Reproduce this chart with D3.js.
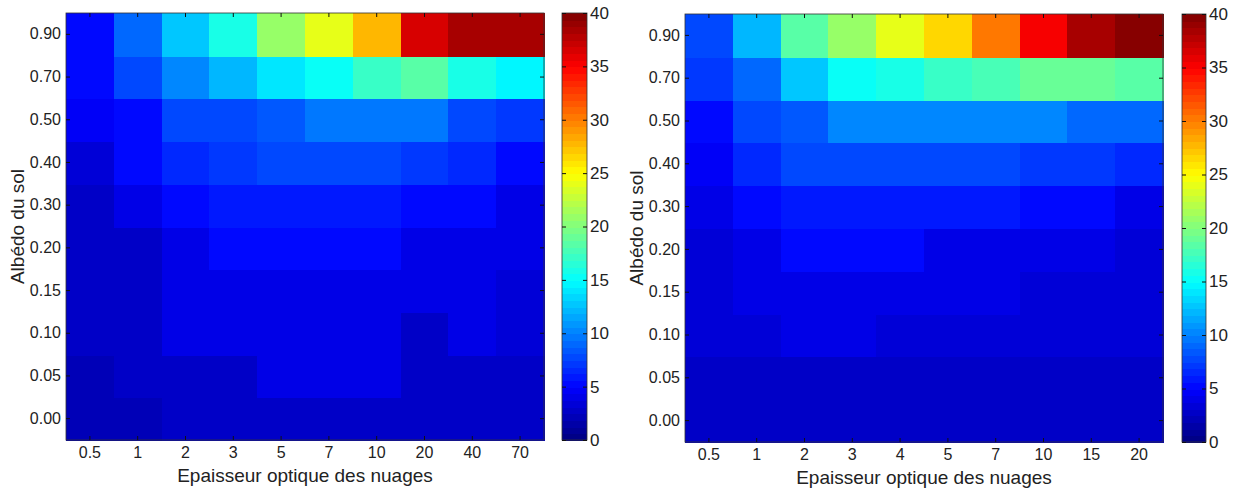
<!DOCTYPE html>
<html>
<head>
<meta charset="utf-8">
<script src="https://cdn.jsdelivr.net/npm/d3@7"></script>
<style>
  body { margin: 0; background: #fff; }
  text { font-family: "Liberation Sans", Arial, sans-serif; fill: #222; }
</style>
</head>
<body>
<div id="viz"></div>
<script>
// albedo rows, bottom to top
const albedo = ["0.00", "0.05", "0.10", "0.15", "0.20", "0.30", "0.40", "0.50", "0.70", "0.90"];

const opticalLeft = ["0.5", "1", "2", "3", "5", "7", "10", "20", "40", "70"];
const opticalRight = ["0.5", "1", "2", "3", "4", "5", "7", "10", "15", "20"];

// one row per albedo value (same order as albedo), one value per optical thickness
const valuesLeft = [
  [2.4, 2.4, 3.0, 3.0, 3.0, 3.0, 3.0, 3.0, 3.0, 3.0],
  [2.3, 3.0, 3.0, 3.0, 4.0, 4.0, 4.0, 3.0, 3.0, 3.0],
  [2.5, 3.0, 3.8, 3.8, 3.8, 3.8, 3.8, 3.0, 3.8, 3.2],
  [2.5, 3.0, 3.8, 3.8, 3.8, 3.8, 3.8, 3.8, 3.8, 3.2],
  [2.5, 3.0, 4.0, 5.0, 5.0, 5.0, 5.0, 3.8, 4.0, 3.8],
  [3.0, 4.0, 5.0, 6.0, 6.0, 6.0, 6.0, 5.0, 5.0, 4.3],
  [3.5, 5.0, 6.5, 7.0, 8.0, 8.0, 8.0, 7.0, 6.5, 5.0],
  [4.5, 5.0, 7.5, 8.0, 8.5, 9.5, 9.5, 9.5, 7.5, 7.0],
  [5.0, 8.0, 10.0, 12.0, 14.0, 15.0, 17.0, 18.5, 16.0, 14.5],
  [5.2, 9.0, 13.0, 16.0, 21.0, 24.0, 28.0, 36.5, 38.5, 38.5]
];

const valuesRight = [
  [2.8, 3.0, 3.0, 3.0, 3.0, 3.0, 3.0, 3.0, 3.0, 2.8],
  [2.5, 3.0, 3.0, 3.0, 3.0, 3.0, 3.0, 3.0, 3.0, 2.7],
  [3.3, 3.3, 4.3, 4.3, 3.2, 3.2, 3.2, 3.2, 3.2, 3.2],
  [3.5, 4.0, 4.0, 4.0, 4.0, 4.0, 4.0, 3.3, 3.3, 3.3],
  [3.5, 4.0, 5.0, 5.0, 5.0, 4.0, 4.0, 4.0, 4.0, 3.7],
  [4.0, 5.0, 6.0, 6.0, 6.0, 6.0, 6.0, 5.0, 5.0, 4.0],
  [4.7, 6.5, 8.0, 8.0, 8.0, 8.0, 8.0, 7.0, 7.0, 6.5],
  [5.0, 7.5, 8.5, 10.0, 10.0, 10.0, 10.0, 10.0, 9.0, 9.0],
  [7.0, 9.0, 13.0, 15.0, 16.0, 17.0, 18.0, 19.0, 19.0, 18.5],
  [8.0, 12.0, 18.5, 21.0, 24.0, 26.5, 30.0, 35.0, 38.5, 40.0]
];

const colorTicks = [0, 5, 10, 15, 20, 25, 30, 35, 40];

const width = 1233;
const height = 493;

// MATLAB-like jet colormap, 64 levels
function jet(t) {
  const c = v => Math.max(0, Math.min(1, v));
  const r = c(1.5 - Math.abs(4 * t - 3));
  const g = c(1.5 - Math.abs(4 * t - 2));
  const b = c(1.5 - Math.abs(4 * t - 1));
  return d3.rgb(r * 255, g * 255, b * 255).formatHex();
}
const jetColors = d3.range(64).map(i => jet((i + 0.5) / 64));
const color = d3.scaleQuantize().domain([0, 40]).range(jetColors);

const svg = d3.select("#viz")
  .append("svg")
  .attr("width", width)
  .attr("height", height);

function drawPanel(opts) {
  const { x0, x1, y0, y1, cx0, cx1, cats, values } = opts;

  const x = d3.scaleBand().domain(cats).range([x0, x1]);
  const y = d3.scaleBand().domain(albedo).range([y1, y0]);

  const g = svg.append("g");

  values.forEach((row, i) => {
    g.selectAll(null)
      .data(row)
      .enter().append("rect")
      .attr("x", (d, j) => x(cats[j]))
      .attr("y", y(albedo[i]))
      .attr("width", x.bandwidth() + 1)
      .attr("height", y.bandwidth() + 1)
      .attr("shape-rendering", "crispEdges")
      .attr("fill", d => color(d));
  });

  // frame
  g.append("rect")
    .attr("x", x0).attr("y", y0)
    .attr("width", x1 - x0).attr("height", y1 - y0)
    .attr("fill", "none")
    .attr("stroke", "#333")
    .attr("stroke-width", 0.8);

  const styleAxis = sel => {
    sel.select(".domain").remove();
    sel.selectAll(".tick line").attr("stroke", "#111");
    sel.selectAll("text").style("font-size", "16px").attr("fill", "#222");
  };

  g.append("g")
    .attr("transform", `translate(${x0},0)`)
    .call(d3.axisLeft(y).tickSizeInner(-4).tickSizeOuter(0).tickPadding(5))
    .call(styleAxis);

  g.append("g")
    .attr("transform", `translate(${x1},0)`)
    .call(d3.axisRight(y).tickSizeInner(-4).tickSizeOuter(0).tickFormat(""))
    .call(styleAxis);

  g.append("g")
    .attr("transform", `translate(0,${y1})`)
    .call(d3.axisBottom(x).tickSizeInner(-4).tickSizeOuter(0).tickPadding(7))
    .call(styleAxis);

  g.append("g")
    .attr("transform", `translate(0,${y0})`)
    .call(d3.axisTop(x).tickSizeInner(-4).tickSizeOuter(0).tickFormat(""))
    .call(styleAxis);

  g.append("text")
    .attr("x", (x0 + x1) / 2)
    .attr("y", y1 + 42)
    .attr("text-anchor", "middle")
    .style("font-size", "19px")
    .text("Epaisseur optique des nuages");

  g.append("text")
    .attr("transform", `translate(${x0 - 42},${(y0 + y1) / 2}) rotate(-90)`)
    .attr("text-anchor", "middle")
    .style("font-size", "19px")
    .text("Albédo du sol");

  // colorbar
  const cy = d3.scaleLinear().domain([0, 40]).range([y1, y0]);
  const step = 40 / jetColors.length;
  g.selectAll(null)
    .data(jetColors)
    .enter().append("rect")
    .attr("x", cx0)
    .attr("y", (d, i) => cy((i + 1) * step))
    .attr("width", cx1 - cx0)
    .attr("height", (d, i) => cy(i * step) - cy((i + 1) * step) + 1)
    .attr("shape-rendering", "crispEdges")
    .attr("fill", d => d);

  g.append("rect")
    .attr("x", cx0).attr("y", y0)
    .attr("width", cx1 - cx0).attr("height", y1 - y0)
    .attr("fill", "none")
    .attr("stroke", "#333")
    .attr("stroke-width", 0.8);

  g.append("g")
    .attr("transform", `translate(${cx1},0)`)
    .call(d3.axisRight(cy).tickValues(colorTicks).tickSizeInner(-4).tickSizeOuter(0).tickPadding(3))
    .call(styleAxis)
    .selectAll("text").style("font-size", "17px");

  g.append("g")
    .attr("transform", `translate(${cx0},0)`)
    .call(d3.axisLeft(cy).tickValues(colorTicks).tickSizeInner(-4).tickSizeOuter(0).tickFormat(""))
    .call(styleAxis);
}

drawPanel({ x0: 66, x1: 544, y0: 13, y1: 440, cx0: 562, cx1: 587, cats: opticalLeft, values: valuesLeft });
drawPanel({ x0: 685, x1: 1163, y0: 14, y1: 442, cx0: 1182, cx1: 1206, cats: opticalRight, values: valuesRight });
</script>
</body>
</html>
